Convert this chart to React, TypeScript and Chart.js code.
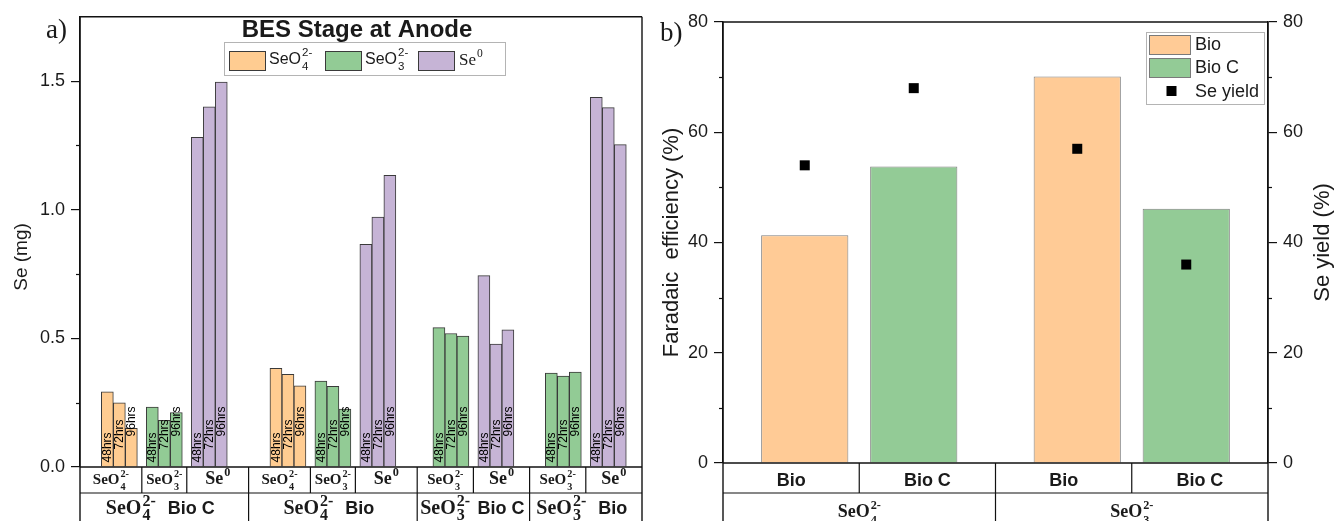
import React, { useEffect, useRef } from 'react';
import { Chart, registerables } from 'chart.js';

Chart.register(...registerables);

const SANS = '"Liberation Sans", Arial, Helvetica, sans-serif';
const SERIF = '"Liberation Serif", "Times New Roman", Times, serif';
const INK = '#111111';
const TEXT = '#1a1a1a';

// ---------------- Panel a) data ----------------
const GROUP_IONS = ['SeO4', 'SeO4', 'SeO3', 'SeO3'];
const GROUP_CULTURES = ['Bio C', 'Bio', 'Bio C', 'Bio'];
const GROUP_SPECIES = [
  ['SeO4', 'SeO3', 'Se0'],
  ['SeO4', 'SeO3', 'Se0'],
  ['SeO3', 'Se0'],
  ['SeO3', 'Se0'],
];
const HOURS = ['48hrs', '72hrs', '96hrs'];
const SE_48H = [0.292, 0.233, 1.281, 0.384, 0.334, 0.866, 0.542, 0.744, 0.365, 1.437];
const SE_72H = [0.249, 0.181, 1.4, 0.36, 0.314, 0.971, 0.519, 0.478, 0.353, 1.397];
const SE_96H = [0.15, 0.212, 1.496, 0.316, 0.225, 1.134, 0.509, 0.533, 0.369, 1.253];
const SE_AXIS_MIN = 0;
const SE_AXIS_MAX = 1.75;
const SE_AXIS_STEP = 0.5;
const LEGEND_A = ['SeO4', 'SeO3', 'Se0'];

// ---------------- Panel b) data ----------------
const FE_IONS = ['SeO4', 'SeO3'];
const FE_CULTURES = ['Bio', 'Bio C'];
const FE_BIO = [41.3, 70.1];
const FE_BIO_C = [53.8, 46.1];
const YIELD_BIO = [54.0, 57.0];
const YIELD_BIO_C = [68.0, 36.0];
const PCT_MIN = 0;
const PCT_MAX = 80;
const PCT_STEP = 20;

// ---------------- styling / layout ----------------
const SPECIES_COLOR: Record<string, string> = {
  SeO4: '#FFCC91',
  SeO3: '#92CB95',
  Se0: '#C6B4D6',
};
const CULTURE_COLOR = ['#FFCB96', '#93CB96'];
const ION_PARTS: Record<string, { base: string; sub?: string; sup?: string }> = {
  SeO4: { base: 'SeO', sub: '4', sup: '2-' },
  SeO3: { base: 'SeO', sub: '3', sup: '2-' },
  Se0: { base: 'Se', sup: '0' },
};
// each sub-group owns one table cell; its bars are packed toward the group centre
const SUBGROUP_PACK = 0.8;
const BAR_PX = 12;
const HOUR_LABEL_LIFT = [4, 17, 30];
const ROW2_NUDGE = -4;

type Script = { ratio?: number; subDy?: number; supDy?: number };

const fnt = (size: number, family: string, weight = 'normal') => `${weight} ${size}px ${family}`;

function ionWidth(ctx: CanvasRenderingContext2D, ion: string, size: number, family: string, weight = 'normal', sc: Script = {}) {
  const p = ION_PARTS[ion];
  const ratio = sc.ratio ?? 0.68;
  ctx.font = fnt(size, family, weight);
  const b = ctx.measureText(p.base).width;
  ctx.font = fnt(size * ratio, family, weight);
  const s = Math.max(p.sub ? ctx.measureText(p.sub).width : 0, p.sup ? ctx.measureText(p.sup).width : 0);
  return b + 1 + s;
}

function drawIon(
  ctx: CanvasRenderingContext2D,
  ion: string,
  x: number,
  y: number,
  size: number,
  family: string,
  weight = 'normal',
  sc: Script = {}
) {
  const p = ION_PARTS[ion];
  const ratio = sc.ratio ?? 0.68;
  ctx.save();
  ctx.fillStyle = TEXT;
  ctx.textAlign = 'left';
  ctx.textBaseline = 'alphabetic';
  ctx.font = fnt(size, family, weight);
  ctx.fillText(p.base, x, y);
  const b = ctx.measureText(p.base).width;
  ctx.font = fnt(size * ratio, family, weight);
  if (p.sub) ctx.fillText(p.sub, x + b + 1, y + size * (sc.subDy ?? 0.38));
  if (p.sup) ctx.fillText(p.sup, x + b + 1, y - size * (sc.supDy ?? 0.45));
  ctx.restore();
  return ionWidth(ctx, ion, size, family, weight, sc);
}

function seg(ctx: CanvasRenderingContext2D, x0: number, y0: number, x1: number, y1: number) {
  ctx.beginPath();
  ctx.moveTo(x0, y0);
  ctx.lineTo(x1, y1);
  ctx.stroke();
}

function minorTicks(chart: any, id: string, side: 'left' | 'right', len: number) {
  const s = chart.scales[id];
  const ctx = chart.ctx as CanvasRenderingContext2D;
  const vals = s.ticks.map((t: any) => t.value);
  const x0 = side === 'left' ? chart.chartArea.left : chart.chartArea.right;
  ctx.save();
  ctx.strokeStyle = INK;
  ctx.lineWidth = 1.2;
  for (let i = 0; i < vals.length - 1; i++) {
    const py = Math.round(s.getPixelForValue((vals[i] + vals[i + 1]) / 2)) + 0.5;
    seg(ctx, x0, py, side === 'left' ? x0 - len : x0 + len, py);
  }
  ctx.restore();
}

function verticalTitle(ctx: CanvasRenderingContext2D, text: string, x: number, y: number, size: number) {
  ctx.save();
  ctx.translate(x, y);
  ctx.rotate(-Math.PI / 2);
  ctx.font = fnt(size, SANS);
  ctx.fillStyle = TEXT;
  ctx.textAlign = 'center';
  ctx.textBaseline = 'middle';
  ctx.fillText(text, 0, 0);
  ctx.restore();
}

// derived layout of panel a): cell index axis
const SPECIES_FLAT = GROUP_SPECIES.flat();
const N_CELLS = SPECIES_FLAT.length;
const GROUP_START: number[] = [];
GROUP_SPECIES.reduce((acc, sp) => {
  GROUP_START.push(acc);
  return acc + sp.length;
}, 0);
const SUBGROUP_POS = GROUP_SPECIES.flatMap((sp, g) =>
  sp.map((_, k) => GROUP_START[g] + sp.length / 2 + (k - (sp.length - 1) / 2) * SUBGROUP_PACK)
);

const ROW2_SCRIPT: Script = { ratio: 0.8, subDy: 0.28, supDy: 0.42 };

// ---------------- Panel a) plugin ----------------
const panelAPlugin = {
  id: 'panelA',
  afterDatasetsDraw(chart: any) {
    const ctx = chart.ctx as CanvasRenderingContext2D;
    ctx.save();
    ctx.font = fnt(12, SANS);
    ctx.fillStyle = '#000000';
    chart.data.datasets.forEach((ds: any, d: number) => {
      const meta = chart.getDatasetMeta(d);
      meta.data.forEach((el: any) => {
        ctx.save();
        ctx.translate(el.x, el.base - HOUR_LABEL_LIFT[d]);
        ctx.rotate(-Math.PI / 2);
        ctx.textAlign = 'left';
        ctx.textBaseline = 'middle';
        ctx.fillText(ds.label, 0, 0.5);
        ctx.restore();
      });
    });
    ctx.restore();
  },
  afterDraw(chart: any) {
    const ctx = chart.ctx as CanvasRenderingContext2D;
    const a = chart.chartArea;
    const x = chart.scales.x;
    const H = chart.height;
    const row1 = a.bottom + 26;

    minorTicks(chart, 'y', 'left', 4);

    ctx.save();
    ctx.strokeStyle = INK;
    ctx.lineWidth = 1.4;
    seg(ctx, a.left, a.top, a.right, a.top);
    seg(ctx, a.right, a.top, a.right, H);
    seg(ctx, a.left, a.top, a.left, H);
    seg(ctx, a.left, a.bottom, a.right, a.bottom);
    ctx.lineWidth = 1.2;
    seg(ctx, a.left, row1, a.right, row1);

    let idx = 0;
    GROUP_SPECIES.forEach((sp, g) => {
      const g0 = GROUP_START[g];
      const g1 = g0 + sp.length;
      const bounds: number[] = [g0];
      for (let k = 0; k < sp.length - 1; k++) bounds.push((SUBGROUP_POS[idx + k] + SUBGROUP_POS[idx + k + 1]) / 2);
      bounds.push(g1);
      sp.forEach((s, k) => {
        const l = x.getPixelForValue(bounds[k]);
        const r = x.getPixelForValue(bounds[k + 1]);
        if (k < sp.length - 1) seg(ctx, r, a.bottom, r, row1);
        const size = s === 'Se0' ? 18 : 15;
        const tw = ionWidth(ctx, s, size, SERIF, 'bold');
        drawIon(ctx, s, (l + r) / 2 - tw / 2, a.bottom + 17, size, SERIF, 'bold');
      });
      idx += sp.length;
      const gStartPx = x.getPixelForValue(g0);
      const gEndPx = x.getPixelForValue(g1);
      if (g < GROUP_SPECIES.length - 1) seg(ctx, gEndPx, a.bottom, gEndPx, H);
      const ionW = ionWidth(ctx, GROUP_IONS[g], 20, SERIF, 'bold', ROW2_SCRIPT);
      ctx.font = fnt(18, SANS, 'bold');
      const cult = GROUP_CULTURES[g];
      const cw = ctx.measureText(cult).width;
      const gap = Math.max(2, Math.min(12, gEndPx - gStartPx - 8 - (ionW + cw)));
      const total = ionW + gap + cw;
      const start = Math.max(gStartPx + 3, (gStartPx + gEndPx) / 2 - total / 2 + ROW2_NUDGE);
      drawIon(ctx, GROUP_IONS[g], start, a.bottom + 47, 20, SERIF, 'bold', ROW2_SCRIPT);
      ctx.font = fnt(18, SANS, 'bold');
      ctx.fillStyle = TEXT;
      ctx.textAlign = 'left';
      ctx.textBaseline = 'alphabetic';
      ctx.fillText(cult, start + ionW + gap, a.bottom + 47);
    });
    ctx.restore();

    // title inside plot
    ctx.save();
    ctx.font = fnt(24, SANS, 'bold');
    ctx.fillStyle = TEXT;
    ctx.textAlign = 'center';
    ctx.textBaseline = 'alphabetic';
    ctx.fillText('BES Stage at Anode', 357, 37);
    ctx.restore();

    // legend
    ctx.save();
    ctx.fillStyle = '#ffffff';
    ctx.fillRect(224, 42, 281, 33);
    ctx.strokeStyle = '#b4b4b4';
    ctx.lineWidth = 1;
    ctx.strokeRect(224.5, 42.5, 281, 33);
    const swX = [229, 325, 418];
    LEGEND_A.forEach((s, i) => {
      ctx.fillStyle = SPECIES_COLOR[s];
      ctx.fillRect(swX[i], 51, 36, 19);
      ctx.strokeStyle = '#3a3a3a';
      ctx.strokeRect(swX[i] + 0.5, 51.5, 36, 19);
      if (s === 'Se0') drawIon(ctx, s, swX[i] + 41, 64.5, 17, SERIF);
      else drawIon(ctx, s, swX[i] + 40, 63.5, 16, SANS, 'normal', { ratio: 0.72 });
    });
    ctx.restore();

    verticalTitle(ctx, 'Se (mg)', 22, 257, 19);

    ctx.save();
    ctx.font = fnt(27, SERIF);
    ctx.fillStyle = TEXT;
    ctx.textAlign = 'left';
    ctx.textBaseline = 'alphabetic';
    ctx.fillText('a)', 46, 38);
    ctx.restore();
  },
};

// ---------------- Panel b) plugin ----------------
const YIELD_SERIES = [YIELD_BIO, YIELD_BIO_C];
const YIELD_MARK = 10;

const panelBPlugin = {
  id: 'panelB',
  afterDatasetsDraw(chart: any) {
    // Se yield markers: x from the bar elements, y from the right-hand scale
    const ctx = chart.ctx as CanvasRenderingContext2D;
    const y1 = chart.scales.y1;
    ctx.save();
    ctx.fillStyle = '#000000';
    YIELD_SERIES.forEach((ys, d) => {
      const meta = chart.getDatasetMeta(d);
      meta.data.forEach((el: any, i: number) => {
        const py = y1.getPixelForValue(ys[i]);
        ctx.fillRect(el.x - YIELD_MARK / 2, py - YIELD_MARK / 2, YIELD_MARK, YIELD_MARK);
      });
    });
    ctx.restore();
  },
  afterDraw(chart: any) {
    const ctx = chart.ctx as CanvasRenderingContext2D;
    const a = chart.chartArea;
    const x = chart.scales.x;
    const H = chart.height;
    const w = (a.right - a.left) / FE_IONS.length;
    const row1 = a.bottom + 30;

    minorTicks(chart, 'y', 'left', 4);
    minorTicks(chart, 'y1', 'right', 4);

    ctx.save();
    ctx.strokeStyle = INK;
    ctx.lineWidth = 1.4;
    seg(ctx, a.left, a.top, a.right, a.top);
    seg(ctx, a.right, a.top, a.right, H);
    seg(ctx, a.left, a.top, a.left, H);
    seg(ctx, a.left, a.bottom, a.right, a.bottom);
    ctx.lineWidth = 1.2;
    seg(ctx, a.left, row1, a.right, row1);

    FE_IONS.forEach((ion, i) => {
      const c = x.getPixelForValue(i);
      seg(ctx, c, a.bottom, c, row1);
      if (i < FE_IONS.length - 1) seg(ctx, c + w / 2, a.bottom, c + w / 2, H);
      FE_CULTURES.forEach((cult, k) => {
        const cx = c - w / 2 + (w / FE_CULTURES.length) * (k + 0.5);
        ctx.font = fnt(18, SANS, 'bold');
        ctx.fillStyle = TEXT;
        ctx.textAlign = 'center';
        ctx.textBaseline = 'alphabetic';
        ctx.fillText(cult, cx, a.bottom + 23);
      });
      const iw = ionWidth(ctx, ion, 18, SERIF, 'bold');
      drawIon(ctx, ion, c - iw / 2, a.bottom + 54, 18, SERIF, 'bold');
    });
    ctx.restore();

    // legend
    ctx.save();
    ctx.fillStyle = '#ffffff';
    ctx.fillRect(486, 32, 118, 72);
    ctx.strokeStyle = '#b4b4b4';
    ctx.lineWidth = 1;
    ctx.strokeRect(486.5, 32.5, 118, 72);
    const names = [...FE_CULTURES, 'Se yield'];
    names.forEach((nm, i) => {
      const yb = 50 + i * 23;
      if (i < FE_CULTURES.length) {
        ctx.fillStyle = CULTURE_COLOR[i];
        ctx.fillRect(489, 35 + i * 23, 41, 19);
        ctx.strokeStyle = '#7a7a7a';
        ctx.strokeRect(489.5, 35.5 + i * 23, 41, 19);
      } else {
        ctx.fillStyle = '#000000';
        ctx.fillRect(506.5, 86, YIELD_MARK, YIELD_MARK);
      }
      ctx.font = fnt(18, SANS);
      ctx.fillStyle = TEXT;
      ctx.textAlign = 'left';
      ctx.textBaseline = 'alphabetic';
      ctx.fillText(nm, 535, yb + (i === 2 ? 1 : 0));
    });
    ctx.restore();

    verticalTitle(ctx, 'Faradaic  efficiency (%)', 12, (a.top + a.bottom) / 2, 22);
    verticalTitle(ctx, 'Se yield (%)', 663, (a.top + a.bottom) / 2, 22);

    ctx.save();
    ctx.font = fnt(27, SERIF);
    ctx.fillStyle = TEXT;
    ctx.textAlign = 'left';
    ctx.textBaseline = 'alphabetic';
    ctx.fillText('b)', 0, 41);
    ctx.restore();
  },
};

const CAT_PCT_B = 0.8;

function PanelA() {
  const ref = useRef<HTMLCanvasElement | null>(null);
  useEffect(() => {
    if (!ref.current) return;
    const chart = new Chart(ref.current, {
      type: 'bar',
      data: {
        datasets: [SE_48H, SE_72H, SE_96H].map((vals, k) => ({
          label: HOURS[k],
          data: vals.map((v, i) => ({ x: SUBGROUP_POS[i], y: v })),
          backgroundColor: (c: any) => SPECIES_COLOR[SPECIES_FLAT[c.dataIndex]],
          borderColor: '#3a3a3a',
          borderWidth: 1,
          barThickness: BAR_PX,
        })),
      },
      options: {
        responsive: false,
        animation: false,
        devicePixelRatio: 1,
        layout: { padding: { left: 0, right: 18, top: 12, bottom: 0 } },
        plugins: { legend: { display: false }, tooltip: { enabled: false }, title: { display: false } },
        scales: {
          x: {
            type: 'linear',
            min: 0,
            max: N_CELLS,
            offset: false,
            grid: { display: false },
            border: { display: false },
            ticks: { display: false },
            afterFit: (s: any) => {
              s.height = 54;
            },
          },
          y: {
            min: SE_AXIS_MIN,
            max: SE_AXIS_MAX,
            ticks: {
              stepSize: SE_AXIS_STEP,
              includeBounds: false,
              callback: (v: any) => Number(v).toFixed(1),
              font: { family: SANS, size: 18 },
              color: TEXT,
              padding: 6,
            },
            grid: { drawOnChartArea: false, tickLength: 9, color: INK, lineWidth: 1.2 },
            border: { display: true, color: INK, width: 1.4 },
            afterFit: (s: any) => {
              s.width = 80;
            },
          },
        },
      } as any,
      plugins: [panelAPlugin],
    });
    return () => chart.destroy();
  }, []);
  return <canvas ref={ref} width={660} height={521} style={{ position: 'absolute', left: 0, top: 0, width: 660, height: 521 }} />;
}

function PanelB() {
  const ref = useRef<HTMLCanvasElement | null>(null);
  useEffect(() => {
    if (!ref.current) return;
    const chart = new Chart(ref.current, {
      type: 'bar',
      data: {
        labels: FE_IONS,
        datasets: [FE_BIO, FE_BIO_C].map((vals, k) => ({
          label: FE_CULTURES[k],
          data: vals,
          backgroundColor: CULTURE_COLOR[k],
          borderColor: '#7f7f7f',
          borderWidth: 1,
          categoryPercentage: CAT_PCT_B,
          barPercentage: 0.8,
          yAxisID: 'y',
        })),
      },
      options: {
        responsive: false,
        animation: false,
        devicePixelRatio: 1,
        layout: { padding: { left: 0, right: 0, top: 22, bottom: 0 } },
        plugins: { legend: { display: false }, tooltip: { enabled: false }, title: { display: false } },
        scales: {
          x: {
            type: 'category',
            offset: true,
            grid: { display: false },
            border: { display: false },
            ticks: { display: false },
            afterFit: (s: any) => {
              s.height = 58;
            },
          },
          y: {
            position: 'left',
            min: PCT_MIN,
            max: PCT_MAX,
            ticks: { stepSize: PCT_STEP, font: { family: SANS, size: 18 }, color: TEXT, padding: 6 },
            grid: { drawOnChartArea: false, tickLength: 9, color: INK, lineWidth: 1.2 },
            border: { display: true, color: INK, width: 1.4 },
            afterFit: (s: any) => {
              s.width = 63;
            },
          },
          y1: {
            type: 'linear',
            position: 'right',
            min: PCT_MIN,
            max: PCT_MAX,
            ticks: { stepSize: PCT_STEP, font: { family: SANS, size: 18 }, color: TEXT, padding: 6 },
            grid: { drawOnChartArea: false, tickLength: 9, color: INK, lineWidth: 1.2 },
            border: { display: true, color: INK, width: 1.4 },
            afterFit: (s: any) => {
              s.width = 67;
            },
          },
        },
      } as any,
      plugins: [panelBPlugin],
    });
    return () => chart.destroy();
  }, []);
  return <canvas ref={ref} width={675} height={521} style={{ position: 'absolute', left: 660, top: 0, width: 675, height: 521 }} />;
}

export default function App() {
  return (
    <div style={{ position: 'absolute', left: 0, top: 0, width: 1335, height: 521, background: '#ffffff', overflow: 'hidden' }}>
      <PanelA />
      <PanelB />
    </div>
  );
}
